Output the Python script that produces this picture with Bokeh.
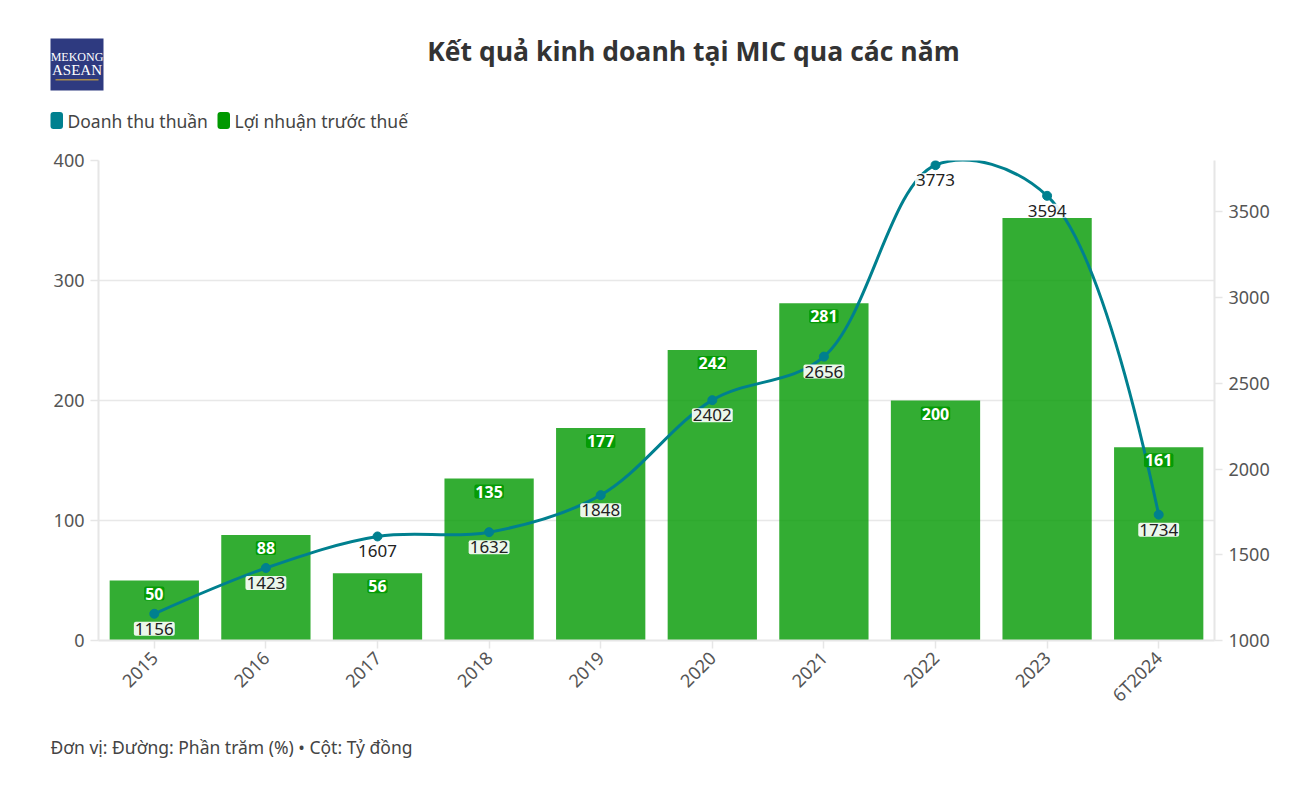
import numpy as np
from bokeh.plotting import figure
from bokeh.layouts import column
from bokeh.models import Range1d, LinearAxis, FixedTicker, BoxAnnotation, ColumnDataSource
from bokeh.embed import file_html
from bokeh.resources import INLINE
from bokeh.core.properties import value

# ---------------- data ----------------
categories = ["2015", "2016", "2017", "2018", "2019", "2020", "2021", "2022", "2023", "6T2024"]
revenue = [1156, 1423, 1607, 1632, 1848, 2402, 2656, 3773, 3594, 1734]   # Doanh thu thuần (right axis)
profit = [50, 88, 56, 135, 177, 242, 281, 200, 352, 161]                 # Lợi nhuận trước thuế (left axis)
hidden_profit_labels = ["2023"]
left_ticks = [0, 100, 200, 300, 400]
right_ticks = [1000, 1500, 2000, 2500, 3000, 3500]

title_text = "Kết quả kinh doanh tại MIC qua các năm"
legend_names = ["Doanh thu thuần", "Lợi nhuận trước thuế"]
footer_text = "Đơn vị: Đường: Phần trăm (%) • Cột: Tỷ đồng"

# ---------------- style ----------------
LINE_COLOR = "#00808f"
BAR_COLOR = "#009900"
GRID = "#e8e8e8"
TICK_TXT = "#555555"
FONT = "Noto Sans"

W = 1296
HEAD_H = 138
BL, BR, BT, BB = 98, 82, 22, 80
FW, FH = W - BL - BR, 480
MAIN_H = BT + FH + BB
FOOT_H = 65
LEFT_RANGE = (0, 400)
RIGHT_RANGE = (1000, 3800)

# ---------------- main chart ----------------
p = figure(width=W, height=MAIN_H, output_backend="svg", toolbar_location=None,
           x_range=Range1d(-0.5, len(categories) - 0.5), y_range=Range1d(*LEFT_RANGE),
           min_border_left=BL, min_border_right=BR, min_border_top=BT, min_border_bottom=BB)
p.frame_align = False
p.outline_line_color = None
p.background_fill_color = "white"
p.border_fill_color = "white"
p.extra_y_ranges = {"rev": Range1d(*RIGHT_RANGE)}

xs = list(range(len(categories)))

# bars
bar_src = ColumnDataSource(dict(x=xs, top=profit))
p.vbar(x="x", top="top", bottom=0, width=0.8, source=bar_src,
       fill_color=BAR_COLOR, fill_alpha=0.8, line_color=None)

# smooth line: centripetal Catmull-Rom tangents (computed in screen-proportional space)
kx = FW / len(categories)
ky = FH / (RIGHT_RANGE[1] - RIGHT_RANGE[0])
S = np.array([[x * kx, y * ky] for x, y in zip(xs, revenue)], dtype=float)


def make_tangent(prev, this, nxt, smooth=1.0):
    d1 = prev - this
    d2 = nxt - this
    d1a = np.hypot(*d1) ** 0.5
    d2a = np.hypot(*d2) ** 0.5
    num = (d2a * d2a * d1 - d1a * d1a * d2) * smooth
    den1 = 3 * d2a * (d1a + d2a)
    den2 = 3 * d1a * (d1a + d2a)
    return this + num / den1, this - num / den2


n = len(S)
tangents = [make_tangent(S[i - 1], S[i], S[i + 1]) for i in range(1, n - 1)]
segs = []
q = tangents[0][0]
segs.append((S[0], S[0] + 2 / 3 * (q - S[0]), S[1] + 2 / 3 * (q - S[1]), S[1]))
for i in range(2, n - 1):
    segs.append((S[i - 1], tangents[i - 2][1], tangents[i - 1][0], S[i]))
q = tangents[n - 3][1]
segs.append((S[n - 2], S[n - 2] + 2 / 3 * (q - S[n - 2]), S[n - 1] + 2 / 3 * (q - S[n - 1]), S[n - 1]))

seg = dict(x0=[], y0=[], x1=[], y1=[], cx0=[], cy0=[], cx1=[], cy1=[])
for a, c0, c1, b in segs:
    seg["x0"].append(a[0] / kx); seg["y0"].append(a[1] / ky)
    seg["cx0"].append(c0[0] / kx); seg["cy0"].append(c0[1] / ky)
    seg["cx1"].append(c1[0] / kx); seg["cy1"].append(c1[1] / ky)
    seg["x1"].append(b[0] / kx); seg["y1"].append(b[1] / ky)
p.bezier(x0="x0", y0="y0", x1="x1", y1="y1", cx0="cx0", cy0="cy0", cx1="cx1", cy1="cy1",
         source=ColumnDataSource(seg), line_color=LINE_COLOR, line_width=3, y_range_name="rev")

rev_src = ColumnDataSource(dict(x=xs, y=revenue, t=[str(v) for v in revenue]))
p.scatter(x="x", y="y", source=rev_src, size=9, fill_color=LINE_COLOR, line_color=LINE_COLOR,
          y_range_name="rev")

# bar value labels
shown = [i for i, c in enumerate(categories) if c not in hidden_profit_labels]
pl_src = ColumnDataSource(dict(x=[xs[i] for i in shown], y=[profit[i] for i in shown],
                               t=[str(profit[i]) for i in shown]))
p.text(x="x", y="y", text="t", source=pl_src, text_align="center", text_baseline="middle",
       y_offset=13, text_color="white", text_font=value(FONT), text_font_style="bold",
       text_font_size="16px", background_fill_color=BAR_COLOR, background_fill_alpha=0.9,
       padding=1, border_radius=2)

# line value labels
p.text(x="x", y="y", text="t", source=rev_src, text_align="center", text_baseline="middle",
       y_offset=15, text_color="#222222", text_font=value(FONT), text_font_size="17px",
       background_fill_color="white", background_fill_alpha=0.9, padding=1, border_radius=2,
       y_range_name="rev")


# axes
def style_axis(ax):
    ax.axis_line_color = "#e6e6e6"
    ax.axis_line_width = 2
    ax.major_tick_line_color = "#e6e6e6"
    ax.major_tick_line_width = 1.5
    ax.major_tick_out = 8
    ax.major_tick_in = 0
    ax.minor_tick_line_color = None
    ax.major_label_text_color = TICK_TXT
    ax.major_label_text_font = FONT
    ax.major_label_text_font_size = "18px"
    ax.major_label_standoff = 6


xa = p.xaxis[0]
xa.ticker = FixedTicker(ticks=xs)
xa.major_label_overrides = {i: c for i, c in enumerate(categories)}
xa.major_label_orientation = np.pi / 4
style_axis(xa)

ya = p.yaxis[0]
ya.ticker = FixedTicker(ticks=left_ticks)
style_axis(ya)

ra = LinearAxis(y_range_name="rev", ticker=FixedTicker(ticks=right_ticks))
style_axis(ra)
p.add_layout(ra, "right")

p.xgrid.visible = False
p.ygrid.ticker = FixedTicker(ticks=left_ticks)
p.ygrid.grid_line_color = GRID
p.ygrid.grid_line_width = 1.5


# ---------------- header (data coords = page pixels) ----------------
def blank(h, y0):
    f = figure(width=W, height=h, output_backend="svg", toolbar_location=None,
               x_range=Range1d(0, W), y_range=Range1d(y0 + h, y0),
               x_axis_location=None, y_axis_location=None, min_border=0)
    f.frame_align = False
    f.outline_line_color = None
    f.grid.visible = False
    f.background_fill_color = "white"
    f.border_fill_color = "white"
    return f


head = blank(HEAD_H, 0)
head.text(x=[693], y=[50], text=[title_text], text_align="center", text_baseline="middle",
          text_font=value("Open Sans"), text_font_style="bold", text_font_size="26.5px",
          text_color="#333333")
# logo
head.add_layout(BoxAnnotation(left=50, right=103, top=38, bottom=90, fill_color="#2e3a80",
                              fill_alpha=1, line_color=None, level="underlay"))
head.text(x=[76.5], y=[56], text=["MEKONG"], text_align="center", text_baseline="middle",
          text_font=value("Liberation Serif"), text_font_size="12px", text_color="white")
head.text(x=[76.5], y=[69], text=["ASEAN"], text_align="center", text_baseline="middle",
          text_font=value("Liberation Serif"), text_font_size="15px", text_color="white")
head.add_layout(BoxAnnotation(left=55, right=98, top=78.5, bottom=80, fill_color="#c8a040",
                              fill_alpha=0.8, line_color=None, level="underlay"))
# legend
for lx, name, col in [(50, legend_names[0], LINE_COLOR), (217, legend_names[1], BAR_COLOR)]:
    head.add_layout(BoxAnnotation(left=lx, right=lx + 12.5, top=111.5, bottom=128.5,
                                  fill_color=col, fill_alpha=1, line_color=None, border_radius=3))
    head.text(x=[lx + 17], y=[120], text=[name], text_align="left", text_baseline="middle",
              text_font=value(FONT), text_font_size="17.5px", text_color="#444444")

# ---------------- footer ----------------
foot_y0 = HEAD_H + MAIN_H
foot = blank(FOOT_H, foot_y0)
foot.text(x=[50], y=[746], text=[footer_text], text_align="left", text_baseline="middle",
          text_font=value(FONT), text_font_size="17.5px", text_color="#444444")

layout = column(head, p, foot, spacing=0)
open("out.html", "w").write(file_html(layout, INLINE))
